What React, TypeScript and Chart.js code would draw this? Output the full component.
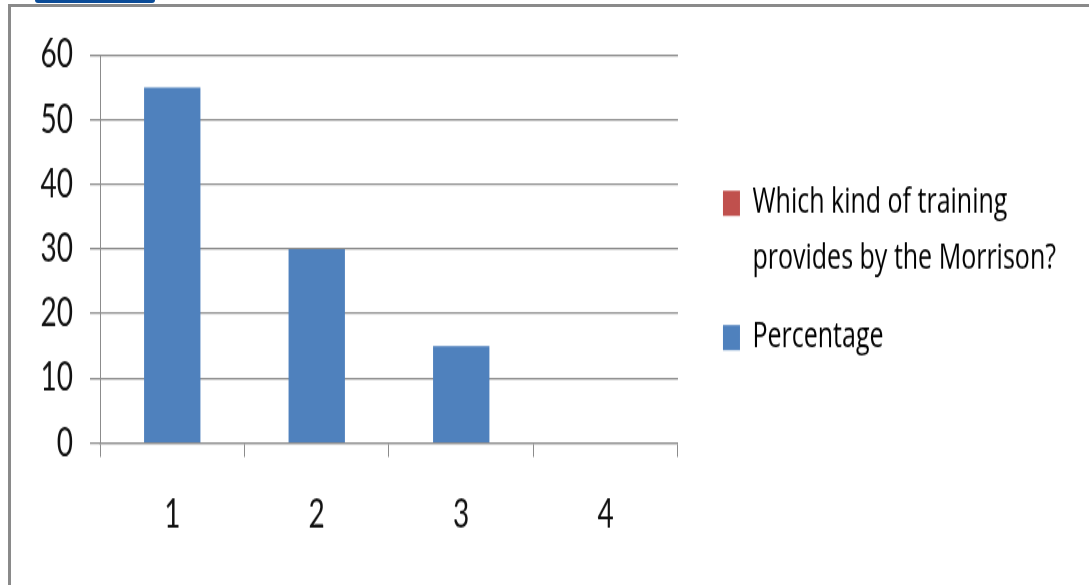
import React, { useEffect, useRef } from 'react';
import { Chart, registerables } from 'chart.js';

Chart.register(...registerables);

// ---- data ----
const categories = ['1', '2', '3', '4'];
const percentageValues = [55, 30, 15, 0];
const questionValues: (number | null)[] = [null, null, null, null];
const questionLegendLines = ['Which kind of training', 'provides by the Morrison?'];
const questionLabel = questionLegendLines.join(' ');
const percentageLabel = 'Percentage';
const yMin = 0;
const yMax = 60;
const yStep = 10;

// ---- layout (the picture is stretched vertically) ----
const W = 1089;
const H = 585;
const CH = 418; // canvas height before vertical stretch
const S = H / CH;

const GRID = '#8c8c8c';
const FONT = 'Lato, "Open Sans", sans-serif';
const LEGEND_FONT = '"Open Sans", Lato, sans-serif';

export default function App() {
  const ref = useRef<HTMLCanvasElement | null>(null);

  useEffect(() => {
    if (!ref.current) return;
    const plotTop = 55 / S;
    const plotBottom = 443 / S;
    const chart = new Chart(ref.current, {
      type: 'bar',
      data: {
        labels: categories,
        datasets: [
          {
            label: questionLabel,
            data: questionValues,
            backgroundColor: '#c0504d',
            borderWidth: 0,
            grouped: false,
            categoryPercentage: 1,
            barPercentage: 0.39,
          },
          {
            label: percentageLabel,
            data: percentageValues,
            backgroundColor: '#4f81bd',
            borderWidth: 0,
            grouped: false,
            categoryPercentage: 1,
            barPercentage: 0.39,
          },
        ],
      },
      options: {
        responsive: false,
        animation: false,
        devicePixelRatio: 1,
        layout: { padding: { top: plotTop, left: 0, bottom: 0, right: 23 } },
        plugins: {
          tooltip: { enabled: false },
          legend: {
            position: 'right',
            align: 'start',
            maxWidth: 600,
            title: {
              display: true,
              text: '',
              font: { size: 12, lineHeight: 1.2 },
              padding: { top: 0, bottom: 63 },
            },
            labels: {
              boxWidth: 17,
              boxHeight: 18,
              padding: 16,
              color: '#000',
              font: { family: LEGEND_FONT, size: 25, lineHeight: 40 / 25 },
              generateLabels: (c: any) =>
                Chart.defaults.plugins.legend.labels
                  .generateLabels(c)
                  .map((it: any) => ({
                    ...it,
                    text: it.text === questionLabel ? questionLegendLines : it.text,
                    lineWidth: 0,
                  })),
            },
          },
        },
        scales: {
          x: {
            offset: true,
            grid: {
              display: true,
              offset: true,
              drawOnChartArea: false,
              drawTicks: true,
              tickLength: 10,
              color: GRID,
              lineWidth: 1,
            },
            border: { display: true, color: GRID, width: 1.3 },
            ticks: {
              color: '#111',
              padding: 24.5,
              font: { family: FONT, size: 28, lineHeight: 1.2 },
            },
            afterFit: (s: any) => {
              s.height = CH - plotBottom;
            },
          },
          y: {
            min: yMin,
            max: yMax,
            grid: {
              color: GRID,
              lineWidth: 1.3,
              drawTicks: true,
              tickLength: 10,
            },
            border: { display: true, color: GRID, width: 1 },
            ticks: {
              stepSize: yStep,
              color: '#111',
              padding: 17,
              font: { family: FONT, size: 28, lineHeight: 1.2 },
            },
            afterFit: (s: any) => {
              s.width = 100;
            },
          },
          gap: {
            type: 'linear',
            position: 'right',
            display: true,
            grid: { display: false },
            border: { display: false },
            ticks: { display: false },
            afterFit: (s: any) => {
              s.width = 29;
            },
          },
        },
      },
    } as any);
    return () => chart.destroy();
  }, []);

  return (
    <div
      style={{
        position: 'absolute',
        left: 0,
        top: 0,
        width: W,
        height: H,
        overflow: 'hidden',
        background: '#fff',
      }}
    >
      <div
        style={{
          position: 'absolute',
          left: 35,
          top: 0,
          width: 120,
          height: 3,
          background: '#0b4c98',
          borderRadius: '0 0 3px 3px',
        }}
      />
      <div
        style={{
          position: 'absolute',
          left: 8,
          top: 4,
          width: W,
          height: H + 10,
          borderLeft: '3px solid #8a8a8a',
          borderTop: '3px solid #8a8a8a',
          boxSizing: 'border-box',
        }}
      />
      <div
        style={{
          position: 'absolute',
          left: 0,
          top: 0,
          width: W,
          height: CH,
          transform: `scaleY(${S})`,
          transformOrigin: '0 0',
        }}
      >
        <canvas ref={ref} width={W} height={CH} style={{ display: 'block' }} />
      </div>
    </div>
  );
}
